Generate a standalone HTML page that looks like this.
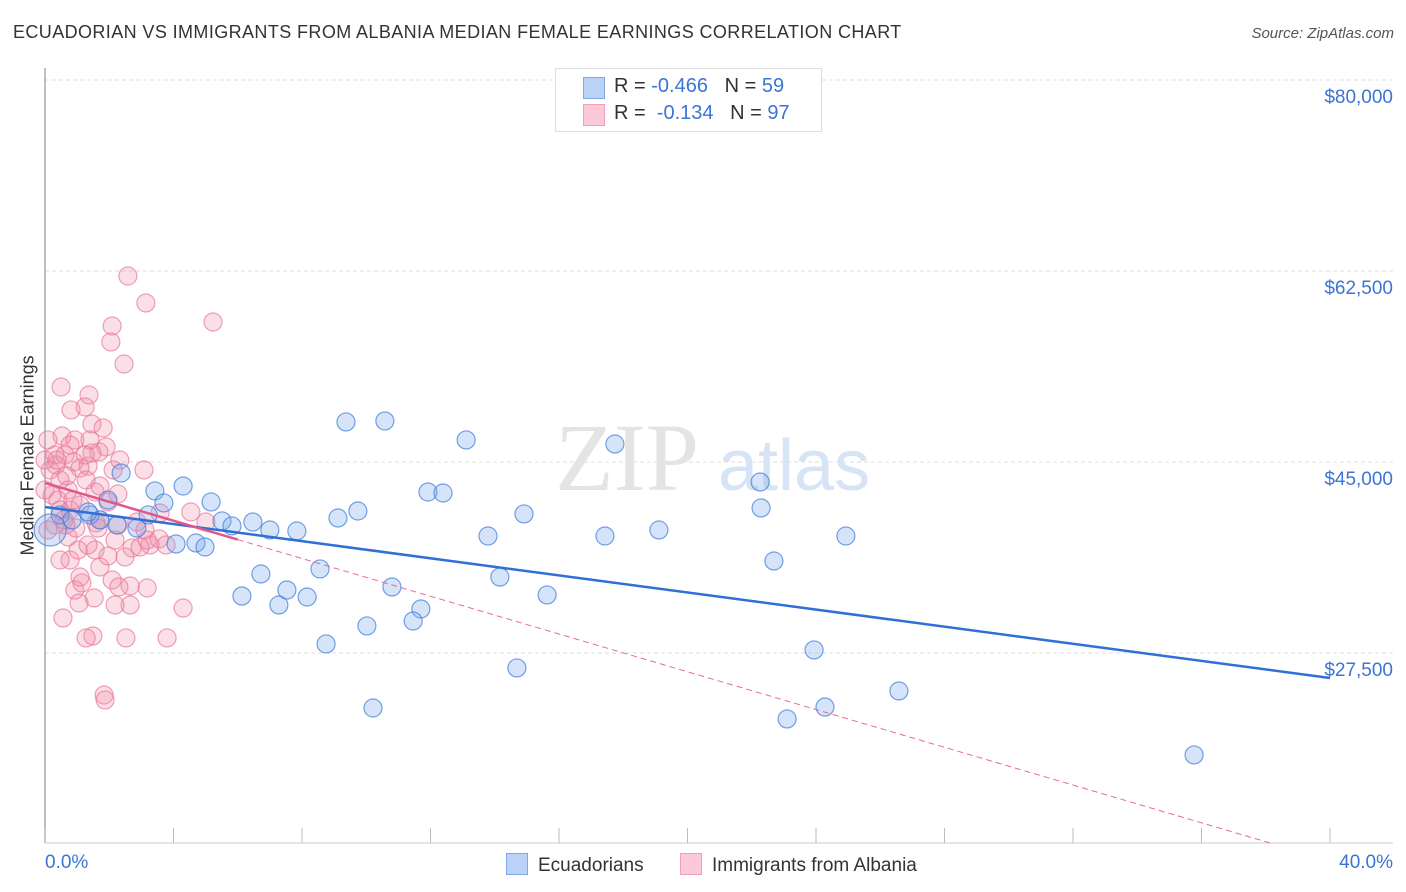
<!DOCTYPE html>
<html><head><meta charset="utf-8"><style>
body{margin:0;background:#fff;font-family:"Liberation Sans",sans-serif;}
#wrap{position:relative;width:1406px;height:892px;overflow:hidden;}
.t{position:absolute;white-space:nowrap;}
</style></head><body>
<div id="wrap">
<div class="t" style="left:13px;top:22px;font-size:18px;color:#333;letter-spacing:0.4px;">ECUADORIAN VS IMMIGRANTS FROM ALBANIA MEDIAN FEMALE EARNINGS CORRELATION CHART</div>
<div class="t" style="right:12px;top:25px;font-size:15px;color:#555;font-style:italic;">Source: ZipAtlas.com</div>
<svg id="svg" width="1406" height="892" style="position:absolute;left:0;top:0;"></svg>
</div>
<script>
const yTicks=[80000,62500,45000,27500];
const yTickLabels=["$80,000","$62,500","$45,000","$27,500"];
const blueX=[2.37,3.42,4.3,3.7,5.17,2.86,3.21,4.08,4.7,4.98,5.51,5.82,6.47,7.0,7.84,6.72,6.13,7.28,7.53,8.16,8.56,8.75,9.12,9.74,9.37,10.58,10.02,10.21,10.8,11.7,11.46,11.92,12.39,13.11,13.79,14.16,14.69,14.91,15.63,17.43,17.74,19.11,22.26,22.29,22.69,23.1,23.94,24.28,24.93,26.58,35.77,1.96,1.4,0.47,0.16,0.84,2.24,1.71,1.34];
const blueY=[43.99,42.35,42.8,41.25,41.34,38.95,40.15,37.49,37.58,37.21,39.6,39.14,39.5,38.77,38.68,34.74,32.72,31.9,33.27,32.63,35.2,28.33,39.87,40.51,48.67,48.76,29.98,22.46,33.55,31.53,30.43,42.25,42.16,47.02,38.22,34.46,26.13,40.24,32.82,38.22,46.65,38.77,43.17,40.79,35.93,21.46,27.78,22.55,38.22,24.02,18.16,41.52,40.15,40.15,38.77,39.69,39.23,39.69,40.42];
const pinkX=[2.58,3.14,5.23,2.09,2.05,2.46,.5,1.37,.81,1.25,1.46,1.81,.53,.93,1.9,1.68,.9,1.34,.31,.16,.47,.72,.22,0,.4,.78,1.09,.59,.96,1.56,1.71,2.33,3.08,.78,.62,1.46,1.09,.34,.09,2.27,2.12,1.4,.47,.87,1.28,1.96,.31,1.59,2.27,2.86,2.18,2.71,3.27,2.49,1.65,.65,.09,.78,1.56,1.71,1.09,1.53,.93,2.65,2.09,1.15,3.18,3.55,2.96,.72,2.3,1.06,3.18,2.65,4.3,.56,1.49,1.28,3.8,2.52,1.84,1.87,5.01,4.54,3.58,1.25,.37,0,1.03,.47,1.34,1.96,3.77,3.11,2.18,.68,1.71];
const pinkY=[62.04,59.57,57.83,57.46,56.0,53.98,51.87,51.14,49.77,50.04,48.48,48.12,47.38,47.02,46.38,45.92,45.0,44.63,45.64,44.27,43.35,42.44,41.98,42.44,41.52,40.6,41.06,39.69,38.95,42.25,39.69,45.18,44.27,46.56,45.64,45.83,44.45,44.73,47.02,42.07,44.27,47.02,40.6,41.52,43.35,41.34,39.23,39.41,39.23,39.5,37.85,37.12,37.4,36.3,38.95,39.23,38.77,36.02,36.94,35.38,34.46,32.54,33.27,33.64,34.19,33.92,37.85,37.95,37.21,38.13,33.55,32.08,33.46,31.9,31.62,30.71,29.06,28.88,28.88,28.88,23.65,23.2,39.5,40.42,40.33,45.64,45.18,45.18,36.94,36.02,37.4,36.39,37.4,38.77,31.9,43.72,42.8];
const blueTrend=[40.88,25.21];
const pinkTrend=[43.08,-0.865];
const NS="http://www.w3.org/2000/svg";
const svg=document.getElementById('svg');
const X=p=>45+p*32.125;
const Y=v=>80+(80000-v)*191/17500;
function mk(t,a,p){const e=document.createElementNS(NS,t);for(const k in a)e.setAttribute(k,a[k]);(p||svg).appendChild(e);return e;}
yTicks.forEach((v,i)=>{
 const g=mk('line',{x1:45,x2:1393,y1:Y(v),y2:Y(v),stroke:'#ddd','stroke-dasharray':'4,3'});
 
 
 const t=mk('text',{x:1393,y:Y(v)+23,'text-anchor':'end','font-size':19,fill:'#3c74d4','font-family':'Liberation Sans'});
 t.textContent=yTickLabels[i];
 
 
});
mk('line',{x1:45,x2:45,y1:68,y2:843,stroke:'#aaa','stroke-width':1.5});
mk('line',{x1:45,x2:1393,y1:843,y2:843,stroke:'#ccc'});
for(let i=0;i<=10;i++){mk('line',{x1:X(i*4),x2:X(i*4),y1:828,y2:843,stroke:'#bbb'});}
const wm=mk('text',{x:555,y:490,'font-size':96,fill:'#e4e4e4','font-family':'Liberation Serif'});wm.textContent='ZIP';

const wm2=mk('text',{x:718,y:490,'font-size':72,fill:'#d7e4f5','font-family':'Liberation Sans'});wm2.textContent='atlas';

function pts(xs,ys,fill,stroke,name){xs.forEach((x,i)=>{
 const r=(name==='blue-point'&&i===54)?16:9;
 const c=mk('circle',{cx:X(x),cy:Y(ys[i]*1000),r:r,fill:fill,stroke:stroke,'stroke-width':1.2});
 
 
});}
pts(pinkX,pinkY,'rgba(242,140,170,0.28)','rgba(232,120,155,0.7)','pink-point');
pts(blueX,blueY,'rgba(120,165,235,0.3)','rgba(70,130,220,0.75)','blue-point');
const bt=mk('line',{x1:X(0),y1:Y(blueTrend[0]*1000),x2:X(40),y2:Y(blueTrend[1]*1000),stroke:'#2f6fd6','stroke-width':2.5});

const pv=p=>(pinkTrend[0]+pinkTrend[1]*p)*1000;
const pd=mk('line',{x1:X(6),y1:Y(pv(6)),x2:X(38.13),y2:Y(pv(38.13)),stroke:'#e86a93','stroke-width':1,'stroke-dasharray':'6,4'});

const ps=mk('line',{x1:X(0),y1:Y(pv(0)),x2:X(6),y2:Y(pv(6)),stroke:'#e0588a','stroke-width':2.5});

</script>
<div class="t" style="left:-72px;top:445px;font-size:18px;color:#333;transform:rotate(-90deg);width:200px;text-align:center;">Median Female Earnings</div>
<div class="t" style="left:45px;top:852px;font-size:19px;color:#3c74d4;">0.0%</div>
<div class="t" style="right:13px;top:852px;font-size:19px;color:#3c74d4;">40.0%</div>
<div style="position:absolute;left:555px;top:68px;width:265px;height:62px;border:1px solid #ddd;background:#fff;font-size:20px;">
 <div style="position:absolute;left:27px;top:8px;width:20px;height:20px;background:#b9d2f5;border:1px solid #7fa8e6;"></div>
 <div class="t" style="left:58px;top:6px;color:#333;">R = <span style="color:#3c74d4">-0.466</span>&nbsp;&nbsp;&nbsp;N = <span style="color:#3c74d4">59</span></div>
 <div style="position:absolute;left:27px;top:35px;width:20px;height:20px;background:#fbc9d8;border:1px solid #eea0b8;"></div>
 <div class="t" style="left:58px;top:33px;color:#333;">R = &nbsp;<span style="color:#3c74d4">-0.134</span>&nbsp;&nbsp;&nbsp;N = <span style="color:#3c74d4">97</span></div>
</div>
<div style="position:absolute;left:506px;top:853px;font-size:19px;color:#333;">
 <span style="display:inline-block;width:20px;height:20px;background:#b9d2f5;border:1px solid #7fa8e6;vertical-align:-4px;margin-right:10px;"></span>Ecuadorians</div>
<div style="position:absolute;left:680px;top:853px;font-size:19px;color:#333;">
 <span style="display:inline-block;width:20px;height:20px;background:#fbc9d8;border:1px solid #eea0b8;vertical-align:-4px;margin-right:10px;"></span>Immigrants from Albania</div>
</body></html>
